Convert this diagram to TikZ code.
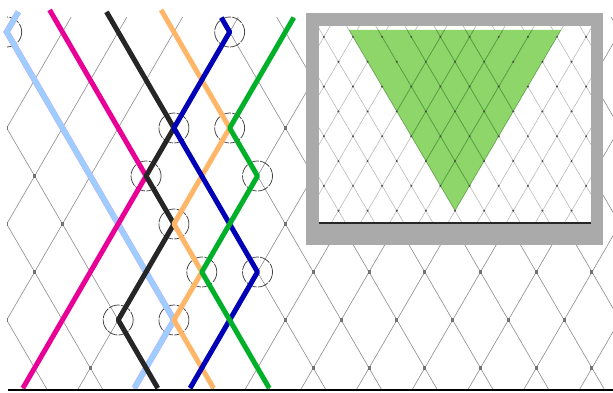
\documentclass[tikz,border=0pt]{standalone}
\usetikzlibrary{calc}

\definecolor{lbline}{RGB}{158,206,255}
\definecolor{lbedge}{RGB}{190,170,255}
\definecolor{mgline}{RGB}{232,0,150}
\definecolor{bkline}{RGB}{38,38,38}
\definecolor{orline}{RGB}{255,182,104}
\definecolor{blline}{RGB}{0,0,182}
\definecolor{grline}{RGB}{0,176,40}
\definecolor{framegray}{RGB}{170,170,170}
\definecolor{trigreen}{RGB}{142,214,106}
\definecolor{trilines}{RGB}{84,158,64}

\begin{document}
\begin{tikzpicture}[x=1pt,y=-1pt,
    lattice/.style={draw=black!45, line width=0.6pt},
    vmark/.style={fill=black!55},
    smalllattice/.style={draw=black!30, line width=0.5pt},
    smallmark/.style={fill=black!70},
    strand/.style={line width=5pt, line join=round},
    ring/.style={draw=black!75, line width=0.75pt, dash pattern=on 11pt off 1.2pt},
    ]
    \useasboundingbox (0,0) rectangle (613,392);

    % Main lattice
    \begin{scope}
      \clip (7,17) rectangle (613,390);
      \begin{scope}[xshift=6.7pt, yshift=-32pt, x=27.87pt, y=-48pt]
        \foreach \c in {-12,-10,...,22}
          \draw[lattice] (\c-2,-2) -- (\c+10,10);
        \foreach \c in {-2,0,...,34}
          \draw[lattice] (\c+2,-2) -- (\c-10,10);
        \foreach \j in {0,2,...,8}
          \foreach \i in {0,2,...,22}
            \fill[vmark] (\i,\j) +(-1.5pt,-2pt) rectangle +(1.5pt,2pt);
        \foreach \j in {-1,1,...,7}
          \foreach \i in {-1,1,...,21}
            \fill[vmark] (\i,\j) +(-1.5pt,-2pt) rectangle +(1.5pt,2pt);
      \end{scope}
    \end{scope}

    % Turning points and free ends
    \begin{scope}[xshift=6.7pt, yshift=-32pt, x=27.87pt, y=-48pt]
      \coordinate (v00) at (0,0);
      \coordinate (v80) at (8,0);
      \coordinate (v62) at (6,2);
      \coordinate (v82) at (8,2);
      \coordinate (v53) at (5,3);
      \coordinate (v93) at (9,3);
      \coordinate (v64) at (6,4);
      \coordinate (v75) at (7,5);
      \coordinate (v95) at (9,5);
      \coordinate (v46) at (4,6);
      \coordinate (v66) at (6,6);
      \coordinate (lbtop) at (0.42,-0.42);
      \coordinate (lbend) at (4.58,7.42);
      \coordinate (mgtop) at (1.54,-0.46);
      \coordinate (mgend) at (0.58,7.42);
      \coordinate (bktop) at (3.58,-0.42);
      \coordinate (bkend) at (5.42,7.42);
      \coordinate (ortop) at (5.54,-0.46);
      \coordinate (orend) at (7.42,7.42);
      \coordinate (bltop) at (7.7,-0.3);
      \coordinate (blend) at (6.58,7.42);
      \coordinate (grtop) at (10.3,-0.3);
      \coordinate (grend) at (9.42,7.42);
    \end{scope}

    % Rings
    \begin{scope}
      \clip (7,0) rectangle (613,392);
      \foreach \v in {v00,v80,v62,v82,v53,v93,v64,v75,v95,v46,v66}
        \draw[ring] (\v) circle (15);
    \end{scope}

    % Strands
    \draw[strand, draw=lbline, preaction={draw=lbedge, line width=6pt}]
      (lbtop) -- (v00) -- (v66) -- (lbend);
    \draw[strand, draw=mgline] (mgtop) -- (v53) -- (mgend);
    \draw[strand, draw=bkline] (bktop) -- (v62) -- (v53) -- (v64) -- (v46) -- (bkend);
    \draw[strand, draw=orline] (ortop) -- (v82) -- (v64) -- (v75) -- (v66) -- (orend);
    \draw[strand, draw=blline] (bltop) -- (v80) -- (v62) -- (v95) -- (blend);
    \draw[strand, draw=grline] (grtop) -- (v82) -- (v93) -- (v75) -- (grend);

    % Base line
    \draw[line width=1.5pt, black] (8,390) -- (613,390);

    % Inset
    \fill[framegray] (306,13) rectangle (603,245);
    \fill[white] (319,26) rectangle (591,223);
    \begin{scope}
      \clip (319,26) rectangle (591,222);
      \begin{scope}[xshift=455pt, yshift=-210.7pt, x=14.57pt, y=24.83pt]
        \foreach \c in {-20,-18,...,12}
          \draw[smalllattice] (\c-2,-2) -- (\c+10,10);
        \foreach \c in {-12,-10,...,20}
          \draw[smalllattice] (\c+2,-2) -- (\c-10,10);
        \fill[trigreen] (0,0) -- (-7.28,7.28) -- (7.28,7.28) -- cycle;
        \begin{scope}
          \clip (0,0) -- (-7.28,7.28) -- (7.28,7.28) -- cycle;
          \foreach \c in {-8,-6,...,0}
            \draw[smalllattice, draw=trilines, line width=0.8pt] (\c-2,-2) -- (\c+10,10);
          \foreach \c in {0,2,...,8}
            \draw[smalllattice, draw=trilines, line width=0.8pt] (\c+2,-2) -- (\c-10,10);
        \end{scope}
        \foreach \q in {0,2,4,6}
          \foreach \p in {-8,-6,...,8}
            \fill[smallmark] (\p,\q) circle (1.1pt);
        \foreach \q in {1,3,5,7}
          \foreach \p in {-9,-7,...,9}
            \fill[smallmark] (\p,\q) circle (1.1pt);
      \end{scope}
    \end{scope}
    \draw[line width=2pt, black!85] (319,223) -- (591,223);
\end{tikzpicture}
\end{document}
